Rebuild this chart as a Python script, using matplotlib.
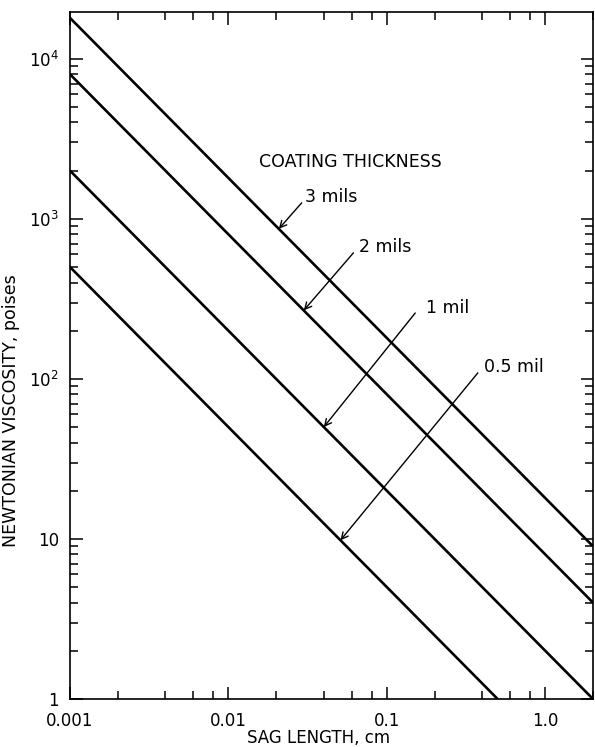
import numpy as np
import matplotlib
matplotlib.use("Agg")
import matplotlib.pyplot as plt
from matplotlib.ticker import FixedLocator, FixedFormatter, LogLocator, NullFormatter

# sag length end points (cm) and viscosity read at each end (poises)
sag_length = [0.001, 2.0]
visc_3mils = [18000, 9.0]
visc_2mils = [8000, 4.0]
visc_1mil = [2000, 1.0]
visc_05mil = [500, 0.25]

thickness_labels = ["3 mils", "2 mils", "1 mil", "0.5 mil"]
# arrow tip on each line, arrow tail, and label anchor (data coords)
arrow_tips = [(0.0208, 866), (0.0299, 268), (0.040, 50), (0.0509, 9.8)]
arrow_tails = [(0.029, 1259), (0.0615, 613), (0.151, 258), (0.375, 109)]
label_pos = [(0.0305, 1372), (0.067, 668), (0.176, 278), (0.41, 119)]

x_ticks = [0.001, 0.01, 0.1, 1.0]
x_ticklabels = ["0.001", "0.01", "0.1", "1.0"]
y_ticks = [1, 10, 100, 1000, 10000]
y_ticklabels = ["1", "10", "$10^2$", "$10^3$", "$10^4$"]

fig = plt.figure(figsize=(5.95, 7.47), dpi=100)
ax = fig.add_axes([70 / 595, 1 - 699 / 747, 523 / 595, 687 / 747])
ax.set_xscale("log")
ax.set_yscale("log")

for v in [visc_3mils, visc_2mils, visc_1mil, visc_05mil]:
    ax.plot(sag_length, v, color="black", lw=1.9, solid_capstyle="butt")

ax.set_xlim(0.001, 2.0)
ax.set_ylim(1, 19600)

ax.text(0.0589, 2270, "COATING THICKNESS", ha="center", va="center", fontsize=12.5)
for lab, tip, tail, pos in zip(thickness_labels, arrow_tips, arrow_tails, label_pos):
    ax.annotate("", xy=tip, xytext=tail,
                arrowprops=dict(arrowstyle="->", lw=1.0, color="black",
                                shrinkA=0, shrinkB=0, mutation_scale=12))
    ax.text(pos[0], pos[1], lab, ha="left", va="center", fontsize=12.5)

ax.xaxis.set_major_locator(FixedLocator(x_ticks))
ax.xaxis.set_major_formatter(FixedFormatter(x_ticklabels))
ax.xaxis.set_minor_locator(LogLocator(base=10, subs=(2, 4, 6, 8)))
ax.xaxis.set_minor_formatter(NullFormatter())
ax.yaxis.set_major_locator(FixedLocator(y_ticks))
ax.yaxis.set_major_formatter(FixedFormatter(y_ticklabels))
ax.yaxis.set_minor_locator(LogLocator(base=10, subs=np.arange(2, 10)))
ax.yaxis.set_minor_formatter(NullFormatter())

ax.tick_params(which="both", direction="in", top=True, right=True, width=1.1)
ax.tick_params(which="major", length=9, labelsize=12)
ax.tick_params(axis="x", which="major", pad=9)
ax.tick_params(axis="y", which="major", pad=8)
ax.tick_params(which="minor", length=5.5)
for s in ax.spines.values():
    s.set_linewidth(1.2)

ax.set_xlabel("SAG LENGTH, cm", fontsize=12)
ax.set_ylabel("NEWTONIAN VISCOSITY, poises", fontsize=12.5)
ax.xaxis.set_label_coords(0.476, -0.043)
ax.yaxis.set_label_coords(-0.095, 0.42)

fig.savefig("out.png", dpi=100)
